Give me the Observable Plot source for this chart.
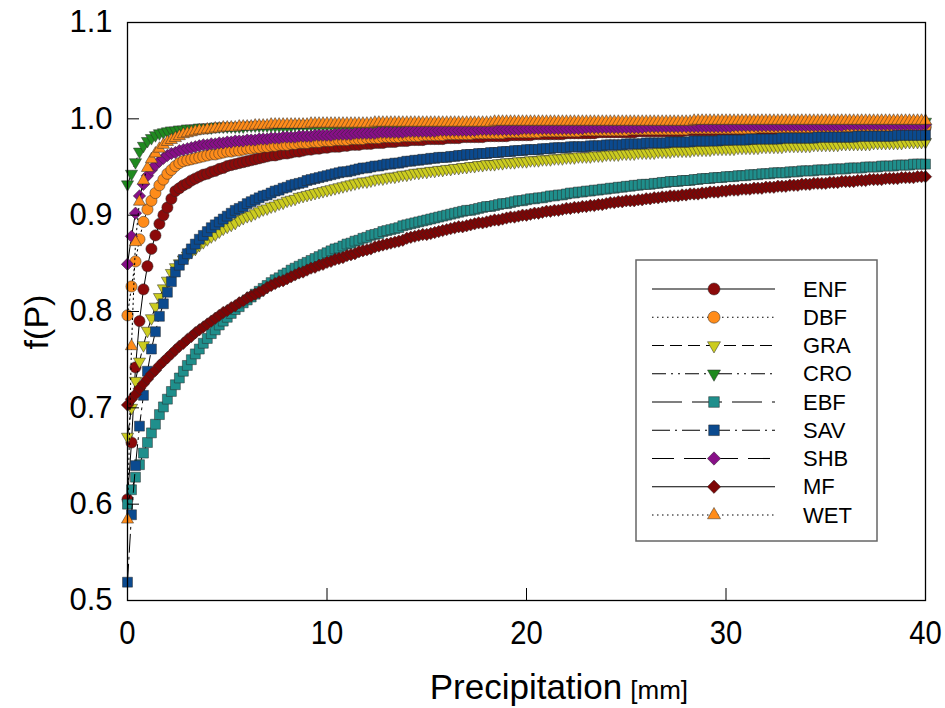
<!DOCTYPE html>
<html>
<head>
<meta charset="utf-8">
<script src="https://cdn.jsdelivr.net/npm/d3@7"></script>
<script src="https://cdn.jsdelivr.net/npm/@observablehq/plot@0.6"></script>
<style>
  html, body { margin: 0; padding: 0; background: #fff; }
</style>
</head>
<body>
<div id="chart"></div>
<script>
// ---------- data ----------
const precip = [0,0.2,0.4,0.6,0.8,1,1.2,1.4,1.6,1.8,
  2,2.2,2.4,2.6,2.8,3,3.2,3.4,3.6,3.8,
  4,4.2,4.4,4.6,4.8,5,5.2,5.4,5.6,5.8,
  6,6.2,6.4,6.6,6.8,7,7.2,7.4,7.6,7.8,
  8,8.2,8.4,8.6,8.8,9,9.2,9.4,9.6,9.8,
  10,10.2,10.4,10.6,10.8,11,11.2,11.4,11.6,11.8,
  12,12.2,12.4,12.6,12.8,13,13.2,13.4,13.6,13.8,
  14,14.2,14.4,14.6,14.8,15,15.2,15.4,15.6,15.8,
  16,16.2,16.4,16.6,16.8,17,17.2,17.4,17.6,17.8,
  18,18.2,18.4,18.6,18.8,19,19.2,19.4,19.6,19.8,
  20,20.2,20.4,20.6,20.8,21,21.2,21.4,21.6,21.8,
  22,22.2,22.4,22.6,22.8,23,23.2,23.4,23.6,23.8,
  24,24.2,24.4,24.6,24.8,25,25.2,25.4,25.6,25.8,
  26,26.2,26.4,26.6,26.8,27,27.2,27.4,27.6,27.8,
  28,28.2,28.4,28.6,28.8,29,29.2,29.4,29.6,29.8,
  30,30.2,30.4,30.6,30.8,31,31.2,31.4,31.6,31.8,
  32,32.2,32.4,32.6,32.8,33,33.2,33.4,33.6,33.8,
  34,34.2,34.4,34.6,34.8,35,35.2,35.4,35.6,35.8,
  36,36.2,36.4,36.6,36.8,37,37.2,37.4,37.6,37.8,
  38,38.2,38.4,38.6,38.8,39,39.2,39.4,39.6,39.8,
  40];

const ENF = [0.605,0.664,0.742,0.790,0.823,0.847,0.865,0.879,0.891,0.900,
  0.908,0.917,0.925,0.928,0.931,0.933,0.936,0.938,0.940,0.942,
  0.943,0.945,0.946,0.948,0.949,0.951,0.952,0.953,0.954,0.955,
  0.956,0.957,0.958,0.959,0.960,0.961,0.962,0.962,0.963,0.964,
  0.964,0.965,0.966,0.966,0.967,0.968,0.968,0.969,0.969,0.970,
  0.970,0.971,0.971,0.971,0.972,0.972,0.973,0.973,0.973,0.974,
  0.974,0.974,0.975,0.975,0.975,0.976,0.976,0.976,0.977,0.977,
  0.977,0.978,0.978,0.978,0.978,0.979,0.979,0.979,0.979,0.979,
  0.980,0.980,0.980,0.980,0.981,0.981,0.981,0.981,0.981,0.981,
  0.982,0.982,0.982,0.982,0.982,0.982,0.983,0.983,0.983,0.983,
  0.983,0.983,0.984,0.984,0.984,0.984,0.984,0.984,0.984,0.984,
  0.985,0.985,0.985,0.985,0.985,0.985,0.985,0.985,0.986,0.986,
  0.986,0.986,0.986,0.986,0.986,0.986,0.986,0.986,0.987,0.987,
  0.987,0.987,0.987,0.987,0.987,0.987,0.987,0.987,0.987,0.987,
  0.988,0.988,0.988,0.988,0.988,0.988,0.988,0.988,0.988,0.988,
  0.988,0.988,0.989,0.989,0.989,0.989,0.989,0.989,0.989,0.989,
  0.989,0.989,0.989,0.989,0.989,0.989,0.989,0.989,0.990,0.990,
  0.990,0.990,0.990,0.990,0.990,0.990,0.990,0.990,0.990,0.990,
  0.990,0.990,0.990,0.990,0.990,0.990,0.990,0.990,0.991,0.991,
  0.991,0.991,0.991,0.991,0.991,0.991,0.991,0.991,0.991,0.991,
  0.991];

const DBF = [0.796,0.826,0.852,0.875,0.893,0.906,0.915,0.923,0.931,0.937,
  0.943,0.947,0.951,0.954,0.956,0.957,0.958,0.959,0.960,0.961,
  0.962,0.963,0.963,0.964,0.965,0.966,0.966,0.967,0.967,0.968,
  0.969,0.969,0.970,0.970,0.971,0.971,0.972,0.972,0.973,0.973,
  0.973,0.974,0.974,0.975,0.975,0.975,0.976,0.976,0.976,0.977,
  0.977,0.977,0.978,0.978,0.978,0.978,0.979,0.979,0.979,0.979,
  0.980,0.980,0.980,0.980,0.981,0.981,0.981,0.981,0.981,0.982,
  0.982,0.982,0.982,0.982,0.983,0.983,0.983,0.983,0.983,0.983,
  0.984,0.984,0.984,0.984,0.984,0.984,0.984,0.985,0.985,0.985,
  0.985,0.985,0.985,0.985,0.985,0.986,0.986,0.986,0.986,0.986,
  0.986,0.986,0.986,0.986,0.987,0.987,0.987,0.987,0.987,0.987,
  0.987,0.987,0.987,0.987,0.988,0.988,0.988,0.988,0.988,0.988,
  0.988,0.988,0.988,0.988,0.988,0.988,0.989,0.989,0.989,0.989,
  0.989,0.989,0.989,0.989,0.989,0.989,0.989,0.989,0.989,0.989,
  0.989,0.990,0.990,0.990,0.990,0.990,0.990,0.990,0.990,0.990,
  0.990,0.990,0.990,0.990,0.990,0.990,0.990,0.990,0.991,0.991,
  0.991,0.991,0.991,0.991,0.991,0.991,0.991,0.991,0.991,0.991,
  0.991,0.991,0.991,0.991,0.991,0.991,0.991,0.991,0.991,0.991,
  0.992,0.992,0.992,0.992,0.992,0.992,0.992,0.992,0.992,0.992,
  0.992,0.992,0.992,0.992,0.992,0.992,0.992,0.992,0.992,0.992,
  0.992];

const GRA = [0.670,0.700,0.728,0.748,0.765,0.780,0.793,0.805,0.815,0.824,
  0.832,0.840,0.846,0.850,0.854,0.858,0.862,0.865,0.869,0.872,
  0.875,0.878,0.880,0.883,0.886,0.888,0.890,0.892,0.895,0.897,
  0.899,0.900,0.902,0.904,0.906,0.907,0.909,0.910,0.912,0.913,
  0.915,0.916,0.917,0.919,0.920,0.921,0.922,0.923,0.924,0.925,
  0.926,0.927,0.928,0.929,0.930,0.931,0.932,0.933,0.934,0.935,
  0.935,0.936,0.937,0.938,0.938,0.939,0.940,0.940,0.941,0.942,
  0.942,0.943,0.944,0.944,0.945,0.945,0.946,0.946,0.947,0.947,
  0.948,0.948,0.949,0.949,0.950,0.950,0.951,0.951,0.952,0.952,
  0.953,0.953,0.953,0.954,0.954,0.955,0.955,0.955,0.956,0.956,
  0.956,0.957,0.957,0.957,0.958,0.958,0.958,0.959,0.959,0.959,
  0.960,0.960,0.960,0.961,0.961,0.961,0.961,0.962,0.962,0.962,
  0.963,0.963,0.963,0.963,0.964,0.964,0.964,0.964,0.965,0.965,
  0.965,0.965,0.965,0.966,0.966,0.966,0.966,0.967,0.967,0.967,
  0.967,0.967,0.968,0.968,0.968,0.968,0.968,0.969,0.969,0.969,
  0.969,0.969,0.969,0.970,0.970,0.970,0.970,0.970,0.970,0.971,
  0.971,0.971,0.971,0.971,0.971,0.972,0.972,0.972,0.972,0.972,
  0.972,0.972,0.973,0.973,0.973,0.973,0.973,0.973,0.973,0.974,
  0.974,0.974,0.974,0.974,0.974,0.974,0.974,0.975,0.975,0.975,
  0.975,0.975,0.975,0.975,0.975,0.976,0.976,0.976,0.976,0.976,
  0.976];

const CRO = [0.932,0.943,0.955,0.966,0.972,0.977,0.980,0.983,0.985,0.986,
  0.987,0.988,0.988,0.989,0.989,0.990,0.990,0.990,0.991,0.991,
  0.991,0.991,0.992,0.992,0.992,0.992,0.992,0.992,0.992,0.992,
  0.993,0.993,0.993,0.993,0.993,0.993,0.993,0.993,0.993,0.993,
  0.993,0.993,0.994,0.994,0.994,0.994,0.994,0.994,0.994,0.994,
  0.994,0.994,0.994,0.994,0.994,0.994,0.994,0.994,0.994,0.994,
  0.994,0.994,0.995,0.995,0.995,0.995,0.995,0.995,0.995,0.995,
  0.995,0.995,0.995,0.995,0.995,0.995,0.995,0.995,0.995,0.995,
  0.995,0.995,0.995,0.995,0.995,0.995,0.995,0.995,0.995,0.995,
  0.995,0.995,0.996,0.996,0.996,0.996,0.996,0.996,0.996,0.996,
  0.996,0.996,0.996,0.996,0.996,0.996,0.996,0.996,0.996,0.996,
  0.996,0.996,0.996,0.996,0.996,0.996,0.996,0.996,0.996,0.996,
  0.996,0.996,0.996,0.996,0.996,0.996,0.996,0.996,0.996,0.996,
  0.996,0.996,0.996,0.996,0.996,0.996,0.996,0.996,0.996,0.996,
  0.996,0.996,0.997,0.997,0.997,0.997,0.997,0.997,0.997,0.997,
  0.997,0.997,0.997,0.997,0.997,0.997,0.997,0.997,0.997,0.997,
  0.997,0.997,0.997,0.997,0.997,0.997,0.997,0.997,0.997,0.997,
  0.997,0.997,0.997,0.997,0.997,0.997,0.997,0.997,0.997,0.997,
  0.997,0.997,0.997,0.997,0.997,0.997,0.997,0.997,0.997,0.997,
  0.997,0.997,0.997,0.997,0.997,0.997,0.997,0.997,0.997,0.997,
  0.997];

const EBF = [0.600,0.615,0.628,0.641,0.653,0.664,0.674,0.683,0.693,0.701,
  0.709,0.717,0.724,0.731,0.738,0.744,0.750,0.756,0.761,0.767,
  0.772,0.777,0.781,0.786,0.790,0.794,0.798,0.802,0.805,0.809,
  0.812,0.815,0.818,0.821,0.824,0.827,0.830,0.833,0.835,0.838,
  0.840,0.843,0.845,0.847,0.849,0.851,0.853,0.855,0.857,0.859,
  0.861,0.863,0.865,0.866,0.868,0.870,0.871,0.873,0.874,0.876,
  0.877,0.879,0.880,0.881,0.883,0.884,0.885,0.886,0.887,0.889,
  0.890,0.891,0.892,0.893,0.894,0.895,0.896,0.897,0.898,0.899,
  0.900,0.901,0.902,0.903,0.904,0.905,0.905,0.906,0.907,0.908,
  0.909,0.909,0.910,0.911,0.912,0.912,0.913,0.914,0.915,0.915,
  0.916,0.917,0.917,0.918,0.918,0.919,0.920,0.920,0.921,0.921,
  0.922,0.923,0.923,0.924,0.924,0.925,0.925,0.926,0.926,0.927,
  0.927,0.928,0.928,0.929,0.929,0.930,0.930,0.931,0.931,0.932,
  0.932,0.932,0.933,0.933,0.934,0.934,0.935,0.935,0.935,0.936,
  0.936,0.936,0.937,0.937,0.938,0.938,0.938,0.939,0.939,0.939,
  0.940,0.940,0.940,0.941,0.941,0.941,0.942,0.942,0.942,0.943,
  0.943,0.943,0.944,0.944,0.944,0.944,0.945,0.945,0.945,0.946,
  0.946,0.946,0.946,0.947,0.947,0.947,0.947,0.948,0.948,0.948,
  0.948,0.949,0.949,0.949,0.949,0.950,0.950,0.950,0.950,0.951,
  0.951,0.951,0.951,0.952,0.952,0.952,0.952,0.953,0.953,0.953,
  0.953];

const SAV = [0.519,0.589,0.640,0.681,0.713,0.738,0.761,0.779,0.795,0.808,
  0.820,0.831,0.841,0.848,0.854,0.860,0.865,0.870,0.875,0.879,
  0.883,0.887,0.890,0.893,0.896,0.899,0.902,0.905,0.907,0.909,
  0.912,0.914,0.916,0.918,0.920,0.921,0.923,0.925,0.926,0.928,
  0.929,0.931,0.932,0.933,0.934,0.936,0.937,0.938,0.939,0.940,
  0.941,0.942,0.943,0.944,0.945,0.945,0.946,0.947,0.948,0.949,
  0.949,0.950,0.951,0.951,0.952,0.953,0.953,0.954,0.954,0.955,
  0.956,0.956,0.957,0.957,0.958,0.958,0.959,0.959,0.960,0.960,
  0.960,0.961,0.961,0.962,0.962,0.963,0.963,0.963,0.964,0.964,
  0.964,0.965,0.965,0.965,0.966,0.966,0.966,0.967,0.967,0.967,
  0.968,0.968,0.968,0.968,0.969,0.969,0.969,0.970,0.970,0.970,
  0.970,0.971,0.971,0.971,0.971,0.971,0.972,0.972,0.972,0.972,
  0.973,0.973,0.973,0.973,0.973,0.974,0.974,0.974,0.974,0.974,
  0.975,0.975,0.975,0.975,0.975,0.975,0.976,0.976,0.976,0.976,
  0.976,0.976,0.977,0.977,0.977,0.977,0.977,0.977,0.977,0.978,
  0.978,0.978,0.978,0.978,0.978,0.978,0.979,0.979,0.979,0.979,
  0.979,0.979,0.979,0.979,0.980,0.980,0.980,0.980,0.980,0.980,
  0.980,0.980,0.980,0.981,0.981,0.981,0.981,0.981,0.981,0.981,
  0.981,0.981,0.981,0.982,0.982,0.982,0.982,0.982,0.982,0.982,
  0.982,0.982,0.982,0.983,0.983,0.983,0.983,0.983,0.983,0.983,
  0.983];

const SHB = [0.849,0.878,0.902,0.920,0.932,0.941,0.947,0.952,0.956,0.959,
  0.962,0.964,0.965,0.967,0.968,0.969,0.970,0.971,0.972,0.973,
  0.973,0.974,0.974,0.975,0.975,0.976,0.976,0.977,0.977,0.977,
  0.978,0.978,0.978,0.979,0.979,0.979,0.980,0.980,0.980,0.981,
  0.981,0.981,0.981,0.982,0.982,0.982,0.982,0.983,0.983,0.983,
  0.983,0.983,0.984,0.984,0.984,0.984,0.984,0.985,0.985,0.985,
  0.985,0.985,0.985,0.986,0.986,0.986,0.986,0.986,0.986,0.986,
  0.987,0.987,0.987,0.987,0.987,0.987,0.987,0.987,0.988,0.988,
  0.988,0.988,0.988,0.988,0.988,0.988,0.988,0.988,0.989,0.989,
  0.989,0.989,0.989,0.989,0.989,0.989,0.989,0.989,0.989,0.990,
  0.990,0.990,0.990,0.990,0.990,0.990,0.990,0.990,0.990,0.990,
  0.990,0.990,0.990,0.990,0.990,0.991,0.991,0.991,0.991,0.991,
  0.991,0.991,0.991,0.991,0.991,0.991,0.991,0.991,0.991,0.991,
  0.992,0.992,0.992,0.992,0.992,0.992,0.992,0.992,0.992,0.992,
  0.992,0.992,0.992,0.992,0.992,0.992,0.992,0.992,0.992,0.992,
  0.992,0.992,0.993,0.993,0.993,0.993,0.993,0.993,0.993,0.993,
  0.993,0.993,0.993,0.993,0.993,0.993,0.993,0.993,0.993,0.993,
  0.993,0.993,0.993,0.993,0.993,0.993,0.993,0.993,0.993,0.993,
  0.994,0.994,0.994,0.994,0.994,0.994,0.994,0.994,0.994,0.994,
  0.994,0.994,0.994,0.994,0.994,0.994,0.994,0.994,0.994,0.994,
  0.994];

const MF = [0.703,0.709,0.714,0.720,0.725,0.730,0.735,0.739,0.744,0.748,
  0.752,0.756,0.760,0.764,0.767,0.771,0.774,0.778,0.781,0.784,
  0.787,0.790,0.793,0.796,0.799,0.801,0.804,0.806,0.809,0.811,
  0.814,0.816,0.818,0.820,0.822,0.825,0.827,0.829,0.831,0.832,
  0.834,0.836,0.838,0.840,0.841,0.843,0.845,0.846,0.848,0.849,
  0.851,0.852,0.854,0.855,0.856,0.858,0.859,0.860,0.862,0.863,
  0.864,0.865,0.867,0.868,0.869,0.870,0.871,0.872,0.873,0.874,
  0.876,0.877,0.878,0.879,0.880,0.880,0.881,0.882,0.883,0.884,
  0.885,0.886,0.887,0.888,0.888,0.889,0.890,0.891,0.892,0.892,
  0.893,0.894,0.895,0.895,0.896,0.897,0.898,0.898,0.899,0.900,
  0.900,0.901,0.902,0.902,0.903,0.904,0.904,0.905,0.905,0.906,
  0.907,0.907,0.908,0.908,0.909,0.909,0.910,0.910,0.911,0.911,
  0.912,0.913,0.913,0.914,0.914,0.915,0.915,0.915,0.916,0.916,
  0.917,0.917,0.918,0.918,0.919,0.919,0.920,0.920,0.920,0.921,
  0.921,0.922,0.922,0.922,0.923,0.923,0.924,0.924,0.924,0.925,
  0.925,0.926,0.926,0.926,0.927,0.927,0.927,0.928,0.928,0.928,
  0.929,0.929,0.929,0.930,0.930,0.930,0.931,0.931,0.931,0.932,
  0.932,0.932,0.933,0.933,0.933,0.933,0.934,0.934,0.934,0.935,
  0.935,0.935,0.935,0.936,0.936,0.936,0.937,0.937,0.937,0.937,
  0.938,0.938,0.938,0.938,0.939,0.939,0.939,0.939,0.940,0.940,
  0.940];

const WET = [0.584,0.764,0.872,0.914,0.936,0.949,0.958,0.964,0.969,0.973,
  0.976,0.978,0.980,0.982,0.984,0.985,0.986,0.987,0.988,0.988,
  0.989,0.989,0.990,0.990,0.991,0.991,0.991,0.991,0.992,0.992,
  0.992,0.992,0.993,0.993,0.993,0.993,0.994,0.994,0.994,0.994,
  0.994,0.994,0.994,0.994,0.994,0.994,0.995,0.995,0.995,0.995,
  0.995,0.995,0.995,0.995,0.995,0.995,0.995,0.995,0.995,0.995,
  0.995,0.995,0.996,0.996,0.996,0.996,0.996,0.996,0.996,0.996,
  0.996,0.996,0.996,0.996,0.996,0.996,0.996,0.996,0.996,0.996,
  0.996,0.996,0.996,0.996,0.996,0.996,0.996,0.996,0.996,0.996,
  0.996,0.996,0.997,0.997,0.997,0.997,0.997,0.997,0.997,0.997,
  0.997,0.997,0.997,0.997,0.997,0.997,0.997,0.997,0.997,0.997,
  0.997,0.997,0.997,0.997,0.997,0.997,0.997,0.997,0.997,0.997,
  0.997,0.997,0.997,0.997,0.997,0.997,0.997,0.997,0.997,0.997,
  0.997,0.997,0.997,0.997,0.997,0.997,0.997,0.997,0.997,0.997,
  0.997,0.997,0.998,0.998,0.998,0.998,0.998,0.998,0.998,0.998,
  0.998,0.998,0.998,0.998,0.998,0.998,0.998,0.998,0.998,0.998,
  0.998,0.998,0.998,0.998,0.998,0.998,0.998,0.998,0.998,0.998,
  0.998,0.998,0.998,0.998,0.998,0.998,0.998,0.998,0.998,0.998,
  0.998,0.998,0.998,0.998,0.998,0.998,0.998,0.998,0.998,0.998,
  0.998,0.998,0.998,0.998,0.998,0.998,0.998,0.998,0.998,0.998,
  0.998];

const seriesNames = ["ENF","DBF","GRA","CRO","EBF","SAV","SHB","MF","WET"];
const seriesValues = [ENF, DBF, GRA, CRO, EBF, SAV, SHB, MF, WET];
const xTicks = [0, 10, 20, 30, 40];
const yTicks = [0.5, 0.6, 0.7, 0.8, 0.9, 1.0, 1.1];

// ---------- styles ----------
const invTriangle = {
  draw(ctx, size) {
    const s = Math.sqrt(size) * 0.6824, t = s / 2, u = s * Math.sqrt(3) / 2;
    ctx.moveTo(0, s); ctx.lineTo(u, -t); ctx.lineTo(-u, -t); ctx.closePath();
  }
};
const fills   = ["#8b0a0a","#ff8c1a","#cccc1f","#1f8a1f","#1f8f8c","#0b4a8f","#870f87","#7d0505","#ff8c1a"];
const symbols = [d3.symbolCircle, d3.symbolCircle, invTriangle, invTriangle, d3.symbolSquare, d3.symbolSquare, d3.symbolDiamond2, d3.symbolDiamond2, d3.symbolTriangle2];
const radii   = [5.6, 5.6, 5.8, 5.8, 5.6, 5.6, 5.6, 5.6, 5.8];
const dashes  = [null, "1.5,3.5", "12,6", "14,5,2,5,2,5", "30,10", "18,5,2,5", "22,10", null, "1.5,3.5"];

const table = seriesNames.flatMap((name, k) =>
  seriesValues[k].map((v, i) => ({series: name, precip: precip[i], fP: v})));

const marks = [];
seriesNames.forEach((name, k) => {
  const d = table.filter(r => r.series === name);
  marks.push(Plot.line(d, {x: "precip", y: "fP", stroke: "#000", strokeWidth: 1,
    strokeDasharray: dashes[k] || undefined}));
  marks.push(Plot.dot(d, {x: "precip", y: "fP", r: radii[k], symbol: symbols[k],
    fill: fills[k], stroke: "#2b2b2b", strokeWidth: 0.5}));
});

const FONT = "'Liberation Sans', Arial, sans-serif";

const chart = Plot.plot({
  width: 945,
  height: 708,
  marginLeft: 127,
  marginRight: 20,
  marginTop: 22,
  marginBottom: 108,
  style: {fontFamily: FONT, background: "#fff", overflow: "visible"},
  x: {domain: [0, 40]},
  y: {domain: [0.5, 1.1]},
  marks: [
    ...marks,
    Plot.axisX(xTicks, {tickSize: 0, tickPadding: 19, fontSize: 34, label: null, fill: "#000"}),
    Plot.axisX(xTicks, {tickSize: -12, fill: "none", label: null, stroke: "#000"}),
    Plot.axisY(yTicks, {tickSize: 0, tickPadding: 15, fontSize: 31, label: null, tickFormat: d3.format(".1f"), fill: "#000"}),
    Plot.axisY(yTicks, {tickSize: -12, fill: "none", label: null, stroke: "#000"}),
    Plot.frame({stroke: "#000", strokeWidth: 1.3})
  ]
});

document.getElementById("chart").appendChild(chart);

const svg = d3.select(chart);

// condensed look of the x tick labels
svg.selectAll('[aria-label="x-axis tick label"] text').each(function() {
  const t = this.getAttribute("transform") || "";
  this.setAttribute("transform", t + " scale(0.86,1)");
});

// ---------- axis titles ----------
svg.append("text")
  .attr("transform", "translate(36,322) rotate(-90)")
  .attr("text-anchor", "middle").attr("dominant-baseline", "central")
  .attr("font-family", FONT).attr("font-size", 34).attr("fill", "#000")
  .text("f(P)");
const xt = svg.append("text")
  .attr("x", 526).attr("y", 699).attr("text-anchor", "start")
  .attr("font-family", FONT).attr("fill", "#000");
xt.append("tspan").attr("font-size", 35).text("Precipitation");
xt.append("tspan").attr("font-size", 26).attr("dx", 8).text("[mm]");
const wordW = xt.select("tspan").node().getComputedTextLength();
xt.attr("x", 526 - wordW / 2);

// ---------- legend ----------
const lg = svg.append("g");
lg.append("rect").attr("x", 636).attr("y", 260).attr("width", 241).attr("height", 281)
  .attr("fill", "#fff").attr("stroke", "#666").attr("stroke-width", 1.5);
seriesNames.forEach((name, k) => {
  const cy = 289 + k * 28.25;
  lg.append("line").attr("x1", 652).attr("x2", 775).attr("y1", cy).attr("y2", cy)
    .attr("stroke", "#000").attr("stroke-width", 1.1)
    .attr("stroke-dasharray", dashes[k] || null);
  lg.append("path")
    .attr("d", d3.symbol().type(symbols[k]).size(Math.PI * radii[k] * radii[k] * 1.15)())
    .attr("transform", `translate(714,${cy})`)
    .attr("fill", fills[k]).attr("stroke", "#2b2b2b").attr("stroke-width", 0.5);
  lg.append("text").attr("x", 803).attr("y", cy)
    .attr("text-anchor", "start").attr("dominant-baseline", "central")
    .attr("font-family", FONT).attr("font-size", 22).attr("fill", "#000").text(name);
});
</script>
</body>
</html>
